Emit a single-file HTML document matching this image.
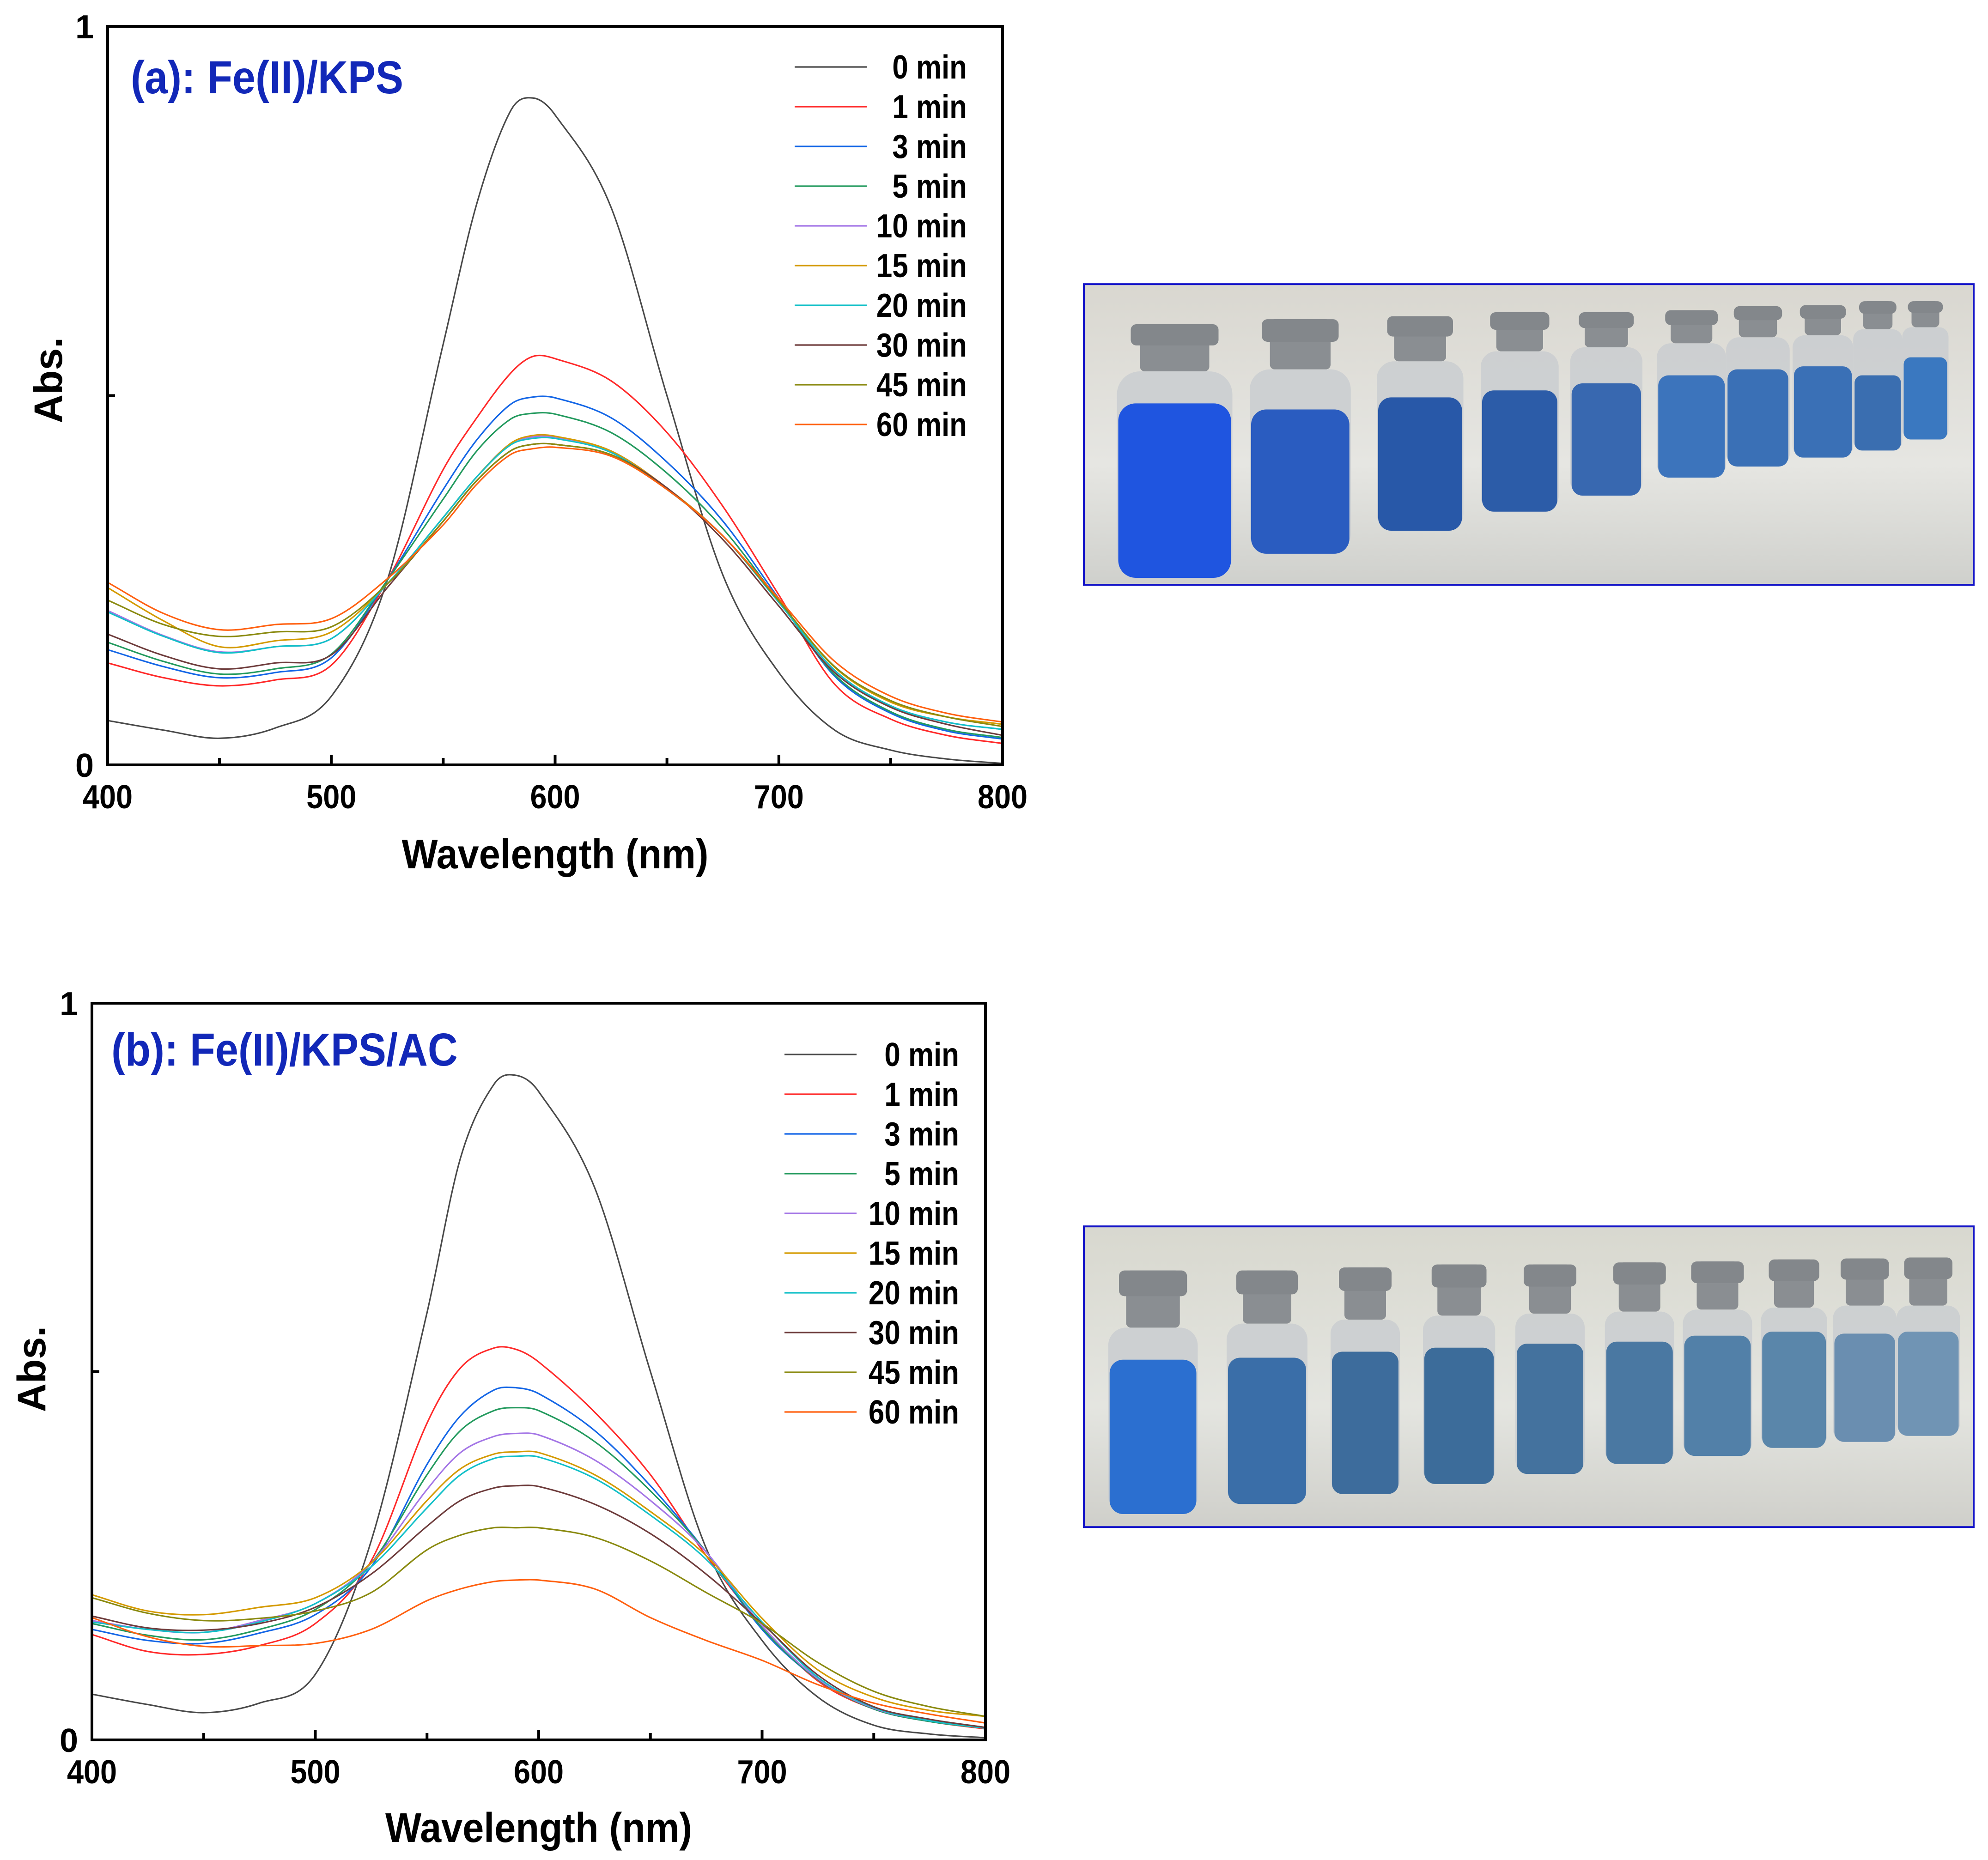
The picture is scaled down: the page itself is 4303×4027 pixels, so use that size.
<!DOCTYPE html>
<html><head><meta charset="utf-8">
<style>
html,body{margin:0;padding:0;background:#fff;}
svg{display:block;}
text{font-family:"Liberation Sans Narrow","Liberation Sans",sans-serif;font-weight:bold;}
</style></head>
<body>
<svg id="root" width="4303" height="4027" viewBox="0 0 4303 4027" xmlns="http://www.w3.org/2000/svg">
<defs>
<linearGradient id="bgA" x1="0" y1="0" x2="0" y2="1"><stop offset="0" stop-color="#d9d7d0"/><stop offset="0.6" stop-color="#e6e6e2"/><stop offset="1" stop-color="#cfd0cc"/></linearGradient>
<linearGradient id="bgB" x1="0" y1="0" x2="0" y2="1"><stop offset="0" stop-color="#d8d8cf"/><stop offset="0.6" stop-color="#e4e5e0"/><stop offset="1" stop-color="#cfcfca"/></linearGradient>
</defs>
</svg>
<script>
const NS="http://www.w3.org/2000/svg";
const root=document.getElementById('root');

const wavelengths=[400,425,450,475,500,525,550,565,580,590,600,625,650,675,700,725,750,775,800];
const seriesLabels=["0 min","1 min","3 min","5 min","10 min","15 min","20 min","30 min","45 min","60 min"];
const seriesColors=["#4a4a4a","#ff2a2a","#1466e6","#239a5e","#a476e6","#d49a00","#12c0c8","#6e3c3c","#8a8a10","#ff6010"];
const xTicks=[400,500,600,700,800];
const yTickLabels=["0","1"];

const a_0min =[.060,.047,.036,.050,.093,.250,.570,.760,.885,.903,.880,.755,.500,.257,.125,.047,.020,.008,.002];
const a_1min =[.138,.118,.107,.115,.135,.250,.400,.470,.530,.553,.550,.520,.450,.350,.230,.109,.062,.040,.029];
const a_3min =[.156,.133,.118,.125,.145,.250,.373,.440,.488,.498,.497,.470,.410,.330,.225,.120,.070,.046,.035];
const a_5min =[.166,.140,.123,.130,.150,.250,.360,.425,.468,.476,.475,.450,.395,.320,.222,.122,.072,.048,.037];
const a_10min=[.209,.175,.153,.160,.171,.245,.335,.390,.435,.444,.444,.425,.375,.310,.220,.128,.080,.058,.048];
const a_15min=[.240,.195,.160,.168,.180,.245,.335,.390,.435,.446,.445,.425,.375,.310,.222,.132,.085,.065,.055];
const a_20min=[.207,.174,.152,.160,.171,.245,.335,.390,.433,.442,.442,.423,.373,.310,.220,.128,.080,.058,.048];
const a_30min=[.177,.148,.130,.138,.149,.240,.330,.385,.425,.434,.434,.420,.375,.305,.215,.125,.078,.055,.040];
const a_45min=[.223,.190,.174,.180,.187,.245,.330,.385,.425,.434,.434,.420,.373,.310,.222,.133,.087,.065,.052];
const a_60min=[.247,.205,.183,.190,.198,.252,.325,.380,.420,.428,.430,.418,.373,.310,.225,.140,.093,.070,.058];

const b_0min =[.062,.048,.037,.050,.089,.270,.580,.790,.890,.902,.880,.750,.500,.260,.135,.058,.020,.008,.003];
const b_1min =[.143,.120,.116,.128,.158,.243,.430,.505,.532,.530,.513,.445,.360,.250,.155,.080,.042,.025,.015];
const b_3min =[.150,.135,.131,.145,.170,.235,.374,.440,.475,.478,.470,.420,.345,.255,.150,.082,.042,.025,.016];
const b_5min =[.158,.142,.136,.150,.177,.240,.360,.420,.447,.451,.447,.405,.338,.255,.152,.082,.042,.025,.016];
const b_10min=[.162,.150,.146,.162,.185,.240,.340,.390,.412,.416,.414,.380,.325,.255,.155,.083,.043,.026,.016];
const b_15min=[.197,.175,.170,.180,.193,.240,.325,.368,.388,.391,.390,.360,.310,.250,.165,.095,.058,.040,.032];
const b_20min=[.160,.150,.146,.160,.185,.235,.315,.360,.382,.385,.384,.355,.305,.245,.160,.085,.044,.026,.016];
const b_30min=[.168,.152,.149,.158,.180,.225,.290,.325,.342,.345,.344,.320,.280,.225,.158,.088,.045,.028,.017];
const b_45min=[.193,.172,.162,.165,.175,.200,.258,.278,.288,.288,.288,.275,.243,.200,.158,.105,.066,.045,.032];
const b_60min=[.166,.140,.127,.128,.131,.150,.189,.205,.215,.217,.217,.205,.166,.135,.108,.075,.050,.035,.023];

const chartA={x0:233,x1:2170,y0:1656,y1:57,series:[a_0min,a_1min,a_3min,a_5min,a_10min,a_15min,a_20min,a_30min,a_45min,a_60min],
  title:"(a): Fe(II)/KPS",titleX:283,titleY:202,legX:1720,legTxtX:2093,legY:145,legStep:86,ylabX:104,ylabY:823,xtitleY:1880,name:'chart-a'};
const chartB={x0:199,x1:2133,y0:3767,y1:2172,series:[b_0min,b_1min,b_3min,b_5min,b_10min,b_15min,b_20min,b_30min,b_45min,b_60min],
  title:"(b): Fe(II)/KPS/AC",titleX:241,titleY:2307,legX:1698,legTxtX:2076,legY:2283,legStep:86,ylabX:68,ylabY:2964,xtitleY:3988,name:'chart-b'};

function el(tag,attrs,parent){const e=document.createElementNS(NS,tag);for(const k in attrs)e.setAttribute(k,attrs[k]);(parent||root).appendChild(e);return e;}

function smoothPath(pts){
  const n=pts.length,m=[];
  for(let i=0;i<n;i++){
    const a=pts[Math.max(0,i-1)],b=pts[Math.min(n-1,i+1)];
    m.push((b[1]-a[1])/(b[0]-a[0]));
  }
  let d="M"+pts[0][0].toFixed(1)+","+pts[0][1].toFixed(1);
  for(let i=0;i<n-1;i++){
    const p1=pts[i],p2=pts[i+1],h=(p2[0]-p1[0])/3;
    d+=" C"+(p1[0]+h).toFixed(1)+","+(p1[1]+m[i]*h).toFixed(1)+" "+(p2[0]-h).toFixed(1)+","+(p2[1]-m[i+1]*h).toFixed(1)+" "+p2[0].toFixed(1)+","+p2[1].toFixed(1);
  }
  return d;
}

function drawChart(c){
  const g=el('g',{});
  
  
  const xs=v=>c.x0+(v-400)/400*(c.x1-c.x0);
  const ys=v=>c.y0+v*(c.y1-c.y0);
  c.series.forEach((arr,si)=>{
    const pts=arr.map((v,i)=>[xs(wavelengths[i]),ys(v)]);
    const p=el('path',{d:smoothPath(pts),fill:'none',stroke:seriesColors[si],'stroke-width':3.2},g);
    
    
    const ly=c.legY+si*c.legStep;
    const ll=el('line',{x1:c.legX,x2:c.legX+156,y1:ly,y2:ly,stroke:seriesColors[si],'stroke-width':3.2},g);
    
    
    const tg=el('g',{transform:'translate('+c.legTxtX+','+(ly+25)+') scale(0.86,1)'},g);
    const lt=el('text',{x:0,y:0,'text-anchor':'end','font-size':72,fill:'#000'},tg);
    
    
    lt.textContent=seriesLabels[si];
  });
  const fr=el('rect',{x:c.x0,y:c.y1,width:c.x1-c.x0,height:c.y0-c.y1,fill:'none',stroke:'#000','stroke-width':6},g);
  
  
  for(let w=400;w<=800;w+=50){
    const major=(w%100===0);
    const t=el('line',{x1:xs(w),x2:xs(w),y1:c.y0,y2:c.y0-(major?22:15),stroke:'#000','stroke-width':6},g);
    
    
  }
  xTicks.forEach(w=>{
    const tg=el('g',{transform:'translate('+xs(w)+','+(c.y0+94)+') scale(0.9,1)'},g);
    const t=el('text',{x:0,y:0,'text-anchor':'middle','font-size':72,fill:'#000'},tg);
    
    
    t.textContent=String(w);
  });
  const yt=el('line',{x1:c.x0,x2:c.x0+16,y1:ys(0.5),y2:ys(0.5),stroke:'#000','stroke-width':6},g);
  
  
  [0,1].forEach((v,i)=>{
    const t=el('text',{x:c.x0-30,y:ys(v)+26,'text-anchor':'end','font-size':72,fill:'#000'},g);
    
    
    t.textContent=yTickLabels[i];
  });
  const yl=el('text',{x:c.ylabX,y:c.ylabY,'text-anchor':'middle','font-size':86,fill:'#000',transform:'rotate(-90 '+c.ylabX+' '+c.ylabY+')','dy':'0.35em'},g);
  
  
  yl.textContent="Abs.";
  const xtg=el('g',{transform:'translate('+((c.x0+c.x1)/2)+','+c.xtitleY+') scale(0.92,1)'},g);
  const xt=el('text',{x:0,y:0,'text-anchor':'middle','font-size':90,fill:'#000'},xtg);
  
  
  xt.textContent="Wavelength (nm)";
  const ttg=el('g',{transform:'translate('+c.titleX+','+c.titleY+') scale(0.9,1)'},g);
  const ti=el('text',{x:0,y:0,'font-size':100,fill:'#1228b8'},ttg);
  
  
  ti.textContent=c.title;
}
drawChart(chartA);
drawChart(chartB);

function drawPhoto(name,ox,oy,grad,bx,capTop,neck,liqTop,liqBot,cols){
  const g=el('g',{});
  
  
  const sx=d=>2330+d*1.25, sy=d=>oy+d*0.434;
  el('rect',{x:2346,y:sy(35),width:1926,height:sy(1535)-sy(35),fill:'url(#'+grad+')'},g);
  bx.forEach((b,i)=>{
    const x0=sx(b[0]),x1=sx(b[1]),w=x1-x0,cx=(x0+x1)/2;
    el('rect',{x:x0,y:sy(neck[i]),width:w,height:sy(liqBot[i])-sy(neck[i]),rx:w*0.2,fill:'#c8ccd0',opacity:0.8},g);
    const liq=el('rect',{x:x0+3,y:sy(liqTop[i]),width:w-6,height:sy(liqBot[i])-sy(liqTop[i]),rx:w*0.15,fill:cols[i]},g);
    
    
    el('rect',{x:cx-w*0.3,y:sy(capTop[i]),width:w*0.6,height:sy(neck[i])-sy(capTop[i]),rx:10,fill:'#8a8e92'},g);
    el('rect',{x:cx-w*0.38,y:sy(capTop[i]),width:w*0.76,height:(sy(neck[i])-sy(capTop[i]))*0.45,rx:12,fill:'#83878b'},g);
  });
  const br=el('rect',{x:2346,y:sy(35),width:1926,height:sy(1535)-sy(35),fill:'none',stroke:'#1414c8','stroke-width':4},g);
  
  
}
drawPhoto('vials-photo-a',2330,600,'bgA',
  [[70,270],[300,475],[520,670],[700,835],[855,980],[1005,1125],[1125,1235],[1240,1345],[1345,1430],[1430,1510]],
  [235,210,195,175,175,165,145,140,120,120],
  [470,460,420,370,350,330,300,290,260,250],
  [630,660,600,565,530,490,460,445,490,400],
  [1500,1380,1265,1170,1090,1000,945,900,865,810],
  ['#1f55e0','#2a5cc0','#2858a8','#2c5ca8','#3868b0','#3c74bc','#3a70b6','#3a70b6','#3a6eb0','#3a78c0']);
drawPhoto('vials-photo-b',2330,2640,'bgB',
  [[55,210],[260,400],[440,560],[600,725],[760,880],[915,1035],[1050,1170],[1185,1300],[1310,1420],[1420,1530]],
  [255,255,240,225,225,215,210,200,195,190],
  [540,520,500,480,470,460,450,440,430,430],
  [700,690,660,640,620,610,580,560,570,560],
  [1470,1420,1370,1320,1270,1220,1180,1140,1110,1080],
  ['#2b6fd0','#3a6ea8','#3d6c9c','#3c6c9a','#44729e','#4a78a2','#5280a8','#5a86aa','#6a8eb0','#7094b4']);
</script>
</body></html>
